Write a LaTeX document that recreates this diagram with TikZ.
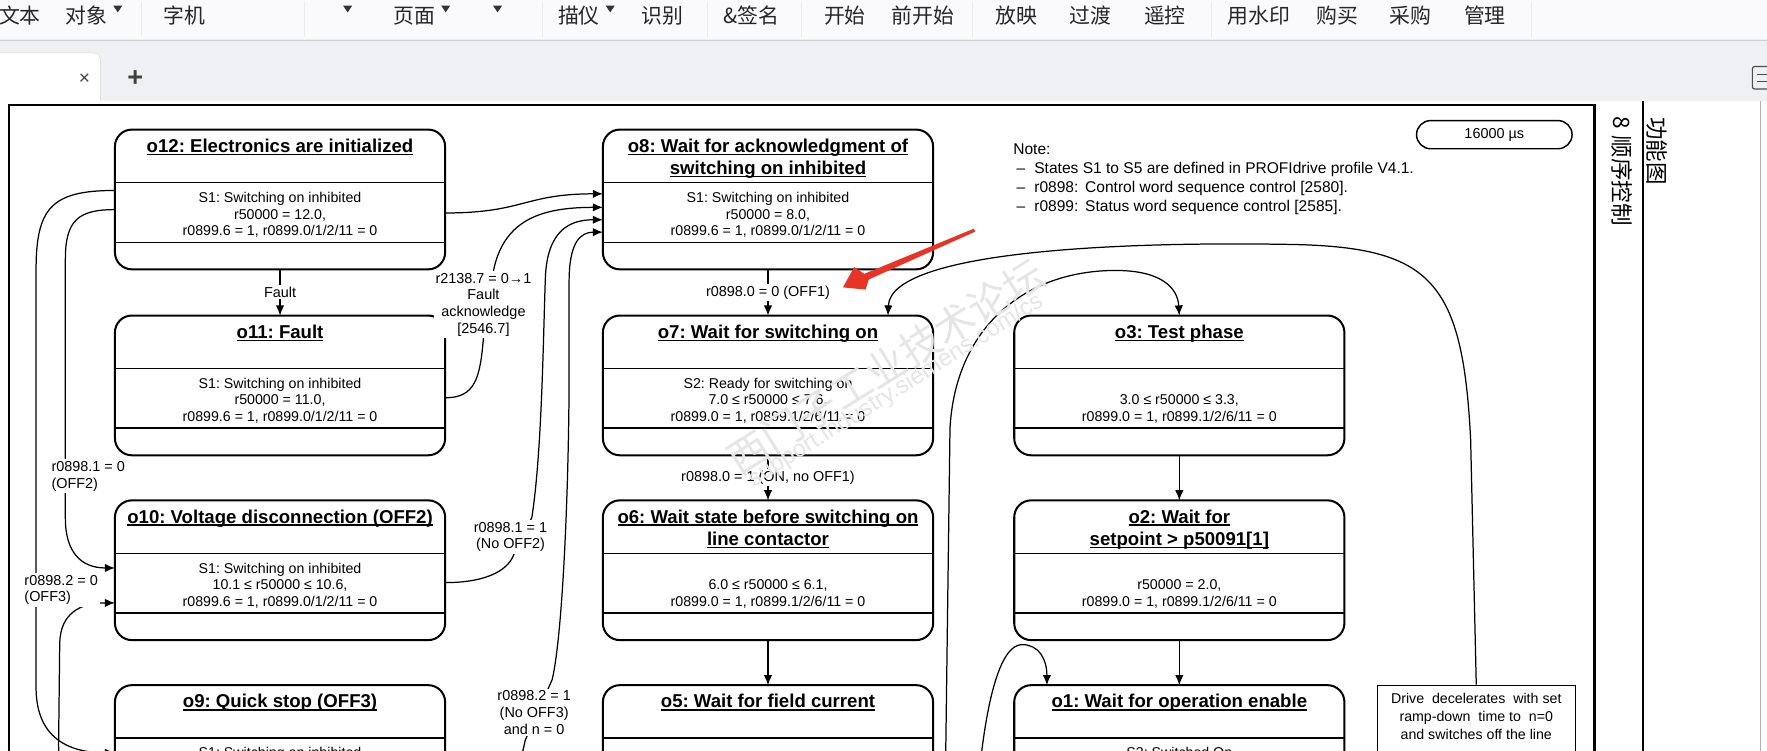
\documentclass[tikz,border=0pt]{standalone}
\usepackage{fontspec}
\setmainfont{Liberation Sans}
\newfontfamily\cjk{Noto Sans CJK SC}
\usepackage{xcolor}
\usepackage{tikz}
\usetikzlibrary{positioning,arrows.meta}
\definecolor{barbg}{HTML}{FAFAFC}
\definecolor{tabbg}{HTML}{EFF0F4}
\definecolor{redmark}{RGB}{232,52,38}
\newcommand{\ttlu}[1]{\setbox0\hbox{#1}\rlap{\rule[-2.3pt]{\wd0}{1.1pt}}\box0}

\begin{document}
\frenchspacing
\begin{tikzpicture}[x=1pt, y=-1pt,
  state/.style={draw, line width=1.8pt, rounded corners=15pt, minimum width=293pt, minimum height=124pt, inner sep=0pt, outer sep=0pt},
  divline/.style={line width=1.3pt},
  ttl/.style={align=center, inner sep=0pt, font=\fontsize{16.5}{20}\selectfont\bfseries},
  body/.style={align=center, inner sep=0pt, font=\fontsize{12.6}{14.8}\selectfont},
  arr/.style={-{Latex[length=9pt,width=7.5pt]}, line width=1.1pt},
  lbl/.style={font=\fontsize{12.8}{15}\selectfont, align=center, fill=white, inner sep=1.5pt},
  tool/.style={anchor=west, inner sep=0pt, text=black!85, font=\cjk\fontsize{18.5}{18.5}\selectfont},
  sidetxt/.style={rotate=-90, anchor=west, inner sep=0pt, font=\cjk\fontsize{20}{20}\selectfont},
  wmark/.style={text=black!10, inner sep=0pt, rotate=32}
]
\useasboundingbox (0,0) rectangle (1568,666);
\clip (0,0) rectangle (1568,666);

% viewer window
\fill[barbg] (0,0) rectangle (1568,35);
\fill[tabbg] (0,35) rectangle (1568,90);
\draw[black!18] (0,35.5) -- (1568,35.5);
\foreach \x in {125,270,481,628,711,863,1075,1359}
  \draw[black!8] (\x,2) -- (\x,33);
\foreach \x/\s [count=\i] in {-1/文本,58/对象,145/字机,349/页面,495/描仪,569/识别,642/\&签名,731/开始,791/前开始,883/放映,949/过渡,1015/遥控,1089/用水印,1168/购买,1233/采购,1299/管理}
  \node[tool] (t\i) at (\x,14) {\s};
\foreach \x in {104.5,308.5,395.5,441.5,541.5}
  \fill[black!80] (\x-4,5) -- (\x+4,5) -- (\x,11) -- cycle;
\filldraw[fill=white, draw=black!15, rounded corners=5pt] (-5,91) -- (-5,47) -- (89,47) -- (89,91);
\node[font=\fontsize{17}{17}\selectfont, text=black!75] (close) at (75,70) {×};
\node[font=\fontsize{24}{24}\selectfont\bfseries, text=black!75] (plus) at (120,70) {+};
\draw[black!70, line width=1pt, rounded corners=2pt] (1555,59) rectangle (1575,79);
\draw[black!70, line width=0.8pt] (1559,66) -- (1568,66) (1559,72) -- (1568,72);
\fill[white] (0,90) rectangle (1562,666);
\draw[black!30] (1562,90) -- (1562,666);

% page frame and margin
\draw[line width=2.2pt] (8,700) -- (8,93) -- (1415,93) -- (1415,700);
\draw[line width=1.5pt] (1458,90) -- (1458,700);
\node[sidetxt] (side1) at (1439,103) {8\hspace{6pt}顺序控制};
\node[sidetxt] (side2) at (1470,104) {功能图};

% states
\node[state] (o12) at (248.5,177) {};
\node[state, below=41pt of o12] (o11) {};
\node[state, below=40pt of o11] (o10) {};
\node[state, below=40pt of o10] (o9) {};
\node[state, right=140pt of o12] (o8) {};
\node[state, below=41pt of o8] (o7) {};
\node[state, below=40pt of o7] (o6) {};
\node[state, below=40pt of o6] (o5) {};
\node[state, right=72pt of o7] (o3) {};
\node[state, below=40pt of o3] (o2) {};
\node[state, below=40pt of o2] (o1) {};

\foreach \n in {o12,o11,o10,o9,o8,o7,o6,o5,o3,o2,o1} {
  \draw[divline] ([yshift=-47pt]\n.north west) -- ([yshift=-47pt]\n.north east);
  \draw[divline] ([yshift=24pt]\n.south west) -- ([yshift=24pt]\n.south east);
}

\node[ttl, below=6pt of o12.north] (o12t) {\strut\ttlu{o12: Electronics are initialized}};
\node[body, below=54pt of o12.north] (o12b) {\strut S1: Switching on inhibited\\r50000 = 12.0,\\r0899.6 = 1, r0899.0/1/2/11 = 0};
\node[ttl, below=6pt of o11.north] (o11t) {\strut\ttlu{o11: Fault}};
\node[body, below=54pt of o11.north] (o11b) {\strut S1: Switching on inhibited\\r50000 = 11.0,\\r0899.6 = 1, r0899.0/1/2/11 = 0};
\node[ttl, below=6pt of o10.north] (o10t) {\strut\ttlu{o10: Voltage disconnection (OFF2)}};
\node[body, below=54pt of o10.north] (o10b) {\strut S1: Switching on inhibited\\10.1 ≤ r50000 ≤ 10.6,\\r0899.6 = 1, r0899.0/1/2/11 = 0};
\node[ttl, below=6pt of o9.north] (o9t) {\strut\ttlu{o9: Quick stop (OFF3)}};
\node[body, below=54pt of o9.north] (o9b) {\strut S1: Switching on inhibited};

\node[ttl, below=6pt of o8.north] (o8t) {\strut\ttlu{o8: Wait for acknowledgment of}\\\ttlu{switching on inhibited}};
\node[body, below=54pt of o8.north] (o8b) {\strut S1: Switching on inhibited\\r50000 = 8.0,\\r0899.6 = 1, r0899.0/1/2/11 = 0};
\node[ttl, below=6pt of o7.north] (o7t) {\strut\ttlu{o7: Wait for switching on}};
\node[body, below=54pt of o7.north] (o7b) {\strut S2: Ready for switching on\\7.0 ≤ r50000 ≤ 7.6,\\r0899.0 = 1, r0899.1/2/6/11 = 0};
\node[ttl, below=6pt of o6.north] (o6t) {\strut\ttlu{o6: Wait state before switching on}\\\ttlu{line contactor}};
\node[body, below=54pt of o6.north] (o6b) {\strut\\6.0 ≤ r50000 ≤ 6.1,\\r0899.0 = 1, r0899.1/2/6/11 = 0};
\node[ttl, below=6pt of o5.north] (o5t) {\strut\ttlu{o5: Wait for field current}};

\node[ttl, below=6pt of o3.north] (o3t) {\strut\ttlu{o3: Test phase}};
\node[body, below=54pt of o3.north] (o3b) {\strut\\3.0 ≤ r50000 ≤ 3.3,\\r0899.0 = 1, r0899.1/2/6/11 = 0};
\node[ttl, below=6pt of o2.north] (o2t) {\strut\ttlu{o2: Wait for}\\\ttlu{setpoint > p50091[1]}};
\node[body, below=54pt of o2.north] (o2b) {\strut\\r50000 = 2.0,\\r0899.0 = 1, r0899.1/2/6/11 = 0};
\node[ttl, below=6pt of o1.north] (o1t) {\strut\ttlu{o1: Wait for operation enable}};
\node[body, below=54pt of o1.north] (o1b) {\strut S3: Switched On};

% note, cycle time, ramp-down box
\node[align=left, inner sep=0pt, anchor=north west, font=\fontsize{13.8}{17}\selectfont] (note) at (899,125)
  {\strut Note:\\\hspace*{3pt}–\hspace*{8pt}States S1 to S5 are defined in PROFIdrive profile V4.1.\\\hspace*{3pt}–\hspace*{8pt}r0898:\hspace*{6pt}Control word sequence control [2580].\\\hspace*{3pt}–\hspace*{8pt}r0899:\hspace*{6pt}Status word sequence control [2585].};
\node[draw, line width=1.3pt, rounded corners=12.5pt, minimum width=138pt, minimum height=25pt, font=\fontsize{12.8}{15}\selectfont] (cyc) at (1326,119.5) {16000 µs};
\node[draw, line width=1pt, minimum width=176pt, minimum height=100pt, inner sep=0pt] (drv) at (1310,658) {};
\node[align=center, inner sep=0pt, font=\fontsize{12.6}{16}\selectfont, below=5pt of drv.north] (drvt)
  {\strut Drive\ \ decelerates\ \ with set\\ramp-down\ \ time to\ \ n=0\\and switches off the line};

\coordinate (lowa) at (838,760);
\coordinate (lowb) at (866,720);

% connectors
\draw[arr] (o12) -- (o11) node[lbl, midway] (l1) {Fault};
\draw[arr] (o8) -- (o7) node[lbl, midway] (l2) {r0898.0 = 0 (OFF1)};
\draw[arr] (o7) -- (o6) node[lbl, midway] (l3) {r0898.0 = 1 (ON, no OFF1)};
\draw[arr] (o6) -- (o5);
\draw[arr] (o3) -- (o2);
\draw[arr] (o2) -- (o1);

\draw[arr] ([yshift=-12pt]o12.east) .. controls (465,189) and (465,172) .. ([yshift=5pt]o8.west);
\draw[arr] ([yshift=-11pt]o11.east) .. controls (422,353) and (426,335) .. (429,300) -- (437,245)
  .. controls (445,195) and (480,184) .. ([yshift=-7pt]o8.west);
\draw[arr] ([yshift=-11pt]o10.east) .. controls (428,517) and (450,508) .. (456,492) -- (472,459)
  .. controls (481,400) and (482,300) .. (484,245) .. controls (486,205) and (505,195) .. ([yshift=-18pt]o8.west);
\draw[arr] ([yshift=-50pt]o9.east) .. controls (440,720) and (460,690) .. (466,657) -- (490,603)
  .. controls (500,560) and (505,420) .. (505,330) -- (505,250) .. controls (505,215) and (515,206) .. ([yshift=-29pt]o8.west);

\draw[arr] ([yshift=8pt]o12.west) .. controls (45,169) and (32,185) .. (32,240) -- (32,610)
  .. controls (32,650) and (55,668) .. ([yshift=2pt]o9.west);
\draw[arr] ([yshift=-9pt]o12.west) .. controls (70,186) and (58,195) .. (58,230) -- (58,460)
  .. controls (58,490) and (72,504) .. ([yshift=2pt]o10.west);
\draw[arr] ([yshift=-29pt]o9.west) .. controls (60,699) and (52,690) .. (52,660) -- (53,570)
  .. controls (54,545) and (70,535) .. ([yshift=-29pt]o10.west);

\draw[arr] (drv.north) -- (1305,390) .. controls (1298,250) and (1270,220) .. (1150,217)
  .. controls (1000,214) and (790,222) .. ([xshift=106.5pt]o7.north);
\draw[arr] (lowa) -- (843,380) .. controls (848,290) and (910,240) .. (990,240)
  .. controls (1030,240) and (1045,255) .. (o3.north);
\draw[arr] (lowb) .. controls (874,610) and (890,572) .. (907,572)
  .. controls (922,572) and (929,585) .. ([xshift=-117.5pt]o1.north);

\node[lbl] (l4) at (429,270.5) {r2138.7 = 0→1\\Fault\\acknowledge\\{}[2546.7]};
\node[lbl] (l5) at (453,476.5) {r0898.1 = 1\\(No OFF2)};
\node[lbl] (l6) at (474,632) {r0898.2 = 1\\(No OFF3)\\and n = 0};
\node[lbl, align=left, anchor=west] (l7) at (44,422.5) {r0898.1 = 0\\(OFF2)};
\node[lbl, align=left, anchor=west] (l8) at (20,523.5) {r0898.2 = 0\\(OFF3)};

% watermark and red pointer
\node[wmark, font=\cjk\fontsize{36}{36}\selectfont] (wm1) at (786,325) {西门子工业技术论坛};
\node[wmark, font=\fontsize{21}{21}\selectfont] (wm2) at (795,347) {support.industry.siemens.com/cs};
\fill[redmark] (864,203) -- (865.5,205.5) -- (771,248) -- (768,257) -- (748,255) -- (758,237) -- (767,243) -- cycle;

\end{tikzpicture}
\end{document}
